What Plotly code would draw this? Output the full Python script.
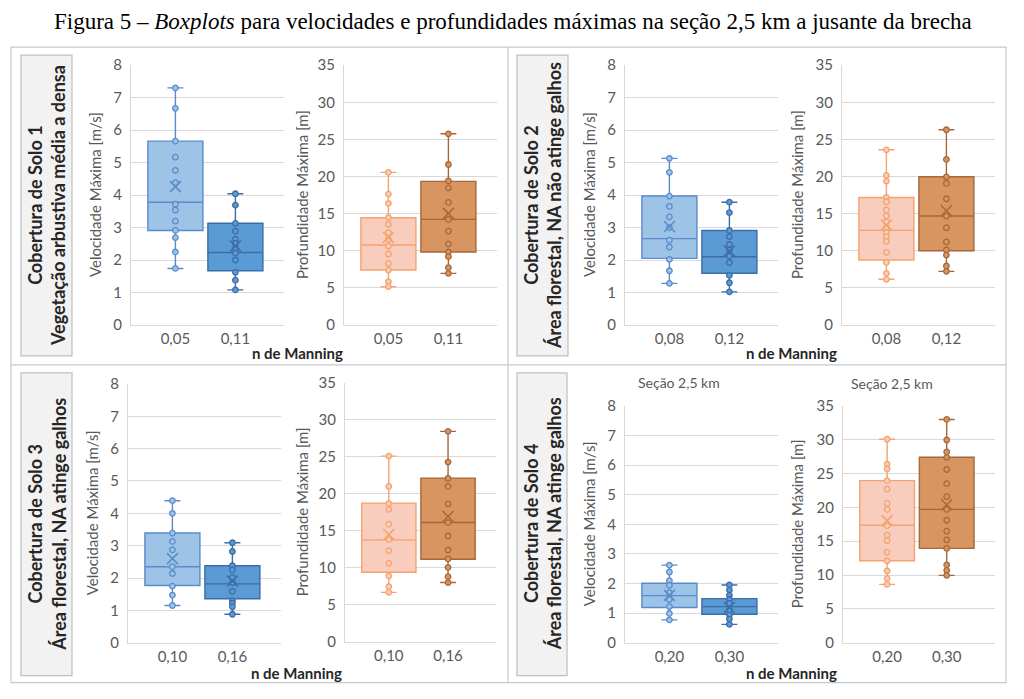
import plotly.graph_objects as go

W, H = 1024, 699

# ---------------- data ----------------
manning_1 = ["0,05", "0,11"]
manning_2 = ["0,08", "0,12"]
manning_3 = ["0,10", "0,16"]
manning_4 = ["0,20", "0,30"]

# Cobertura 1 - velocidade
vel1_lower = [1.74, 1.08]
vel1_q1 = [2.91, 1.67]
vel1_median = [3.78, 2.23]
vel1_q3 = [5.66, 3.13]
vel1_upper = [7.30, 4.04]
vel1_mean = [4.26, 2.43]
vel1_pts_a = [7.30, 6.67, 5.66, 5.17, 4.76, 4.38, 3.72, 3.54, 3.20, 2.91, 2.69, 2.25, 1.74]
vel1_pts_b = [4.04, 3.69, 3.13, 2.89, 2.64, 2.51, 2.36, 2.21, 2.00, 1.62, 1.38, 1.08]
# Cobertura 1 - profundidade
prof1_lower = [5.16, 6.95]
prof1_q1 = [7.40, 9.83]
prof1_median = [10.77, 14.22]
prof1_q3 = [14.45, 19.34]
prof1_upper = [20.55, 25.75]
prof1_mean = [11.8, 15.03]
prof1_pts_a = [20.55, 17.63, 16.37, 14.49, 13.55, 12.43, 11.53, 10.63, 9.56, 8.30, 7.40, 5.83, 5.16]
prof1_pts_b = [25.75, 21.62, 19.42, 18.48, 16.51, 14.22, 12.65, 10.90, 9.83, 9.20, 7.72, 6.95]

# Cobertura 2 - velocidade
vel2_lower = [1.28, 1.02]
vel2_q1 = [2.05, 1.59]
vel2_median = [2.66, 2.10]
vel2_q3 = [3.97, 2.91]
vel2_upper = [5.13, 3.78]
vel2_mean = [3.03, 2.28]
vel2_pts_a = [5.13, 4.70, 3.97, 3.65, 3.33, 3.00, 2.61, 2.40, 2.02, 1.67, 1.28]
vel2_pts_b = [3.78, 3.46, 2.91, 2.72, 2.48, 2.31, 2.12, 1.92, 1.53, 1.30, 1.02]
# Cobertura 2 - profundidade
prof2_lower = [6.15, 7.22]
prof2_q1 = [8.75, 10.0]
prof2_median = [12.74, 14.67]
prof2_q3 = [17.18, 19.96]
prof2_upper = [23.6, 26.3]
prof2_mean = [13.46, 15.39]
prof2_pts_a = [23.6, 20.14, 19.38, 17.18, 16.6, 15.5, 14.7, 13.9, 13.14, 12.47, 11.9, 11.26, 9.78, 8.43, 6.95, 6.15]
prof2_pts_b = [26.3, 22.3, 19.96, 19.07, 17.0, 14.67, 13.1, 11.2, 10.1, 9.42, 7.94, 7.22]

# Cobertura 3 - velocidade
vel3_lower = [1.15, 0.88]
vel3_q1 = [1.77, 1.36]
vel3_median = [2.35, 1.82]
vel3_q3 = [3.39, 2.38]
vel3_upper = [4.39, 3.09]
vel3_mean = [2.60, 1.91]
vel3_pts_a = [4.39, 4.00, 3.39, 3.13, 2.87, 2.35, 2.14, 1.75, 1.47, 1.15]
vel3_pts_b = [3.09, 2.82, 2.38, 2.25, 2.02, 1.86, 1.59, 1.30, 1.22, 1.11, 0.88]
# Cobertura 3 - profundidade
prof3_lower = [6.68, 8.0]
prof3_q1 = [9.4, 11.16]
prof3_median = [13.78, 16.12]
prof3_q3 = [18.74, 22.13]
prof3_upper = [25.1, 28.45]
prof3_mean = [14.5, 16.94]
prof3_pts_a = [25.1, 21.0, 18.7, 17.9, 15.9, 13.8, 12.3, 10.6, 8.9, 7.45, 6.68]
prof3_pts_b = [28.45, 24.3, 22.1, 21.0, 18.65, 16.1, 14.3, 12.4, 11.2, 10.05, 8.8, 8.0]

# Cobertura 4 - velocidade
vel4_lower = [0.77, 0.62]
vel4_q1 = [1.19, 0.96]
vel4_median = [1.59, 1.22]
vel4_q3 = [2.01, 1.49]
vel4_upper = [2.62, 1.95]
vel4_mean = [1.60, 1.19]
vel4_pts_a = [2.62, 2.39, 2.10, 1.94, 1.69, 1.46, 1.22, 0.99, 0.77]
vel4_pts_b = [1.95, 1.78, 1.60, 1.46, 1.33, 1.10, 0.94, 0.80, 0.62]
# Cobertura 4 - profundidade
prof4_lower = [8.62, 9.96]
prof4_q1 = [12.12, 13.94]
prof4_median = [17.35, 19.71]
prof4_q3 = [23.95, 27.4]
prof4_upper = [30.07, 33.0]
prof4_mean = [18.04, 20.4]
prof4_pts_a = [30.07, 26.4, 25.7, 23.95, 22.7, 20.6, 19.7, 17.3, 15.9, 15.1, 13.4, 12.1, 10.6, 9.5, 8.62]
prof4_pts_b = [33.0, 29.96, 28.2, 27.4, 25.6, 23.5, 21.6, 19.7, 18.1, 16.5, 15.2, 13.94, 11.5, 10.7, 9.96]

cover_labels = [
    "Cobertura de Solo 1<br>Vegetação arbustiva média a densa",
    "Cobertura de Solo 2<br>Área florestal, NA não atinge galhos",
    "Cobertura de Solo 3<br>Área florestal, NA atinge galhos",
    "Cobertura de Solo 4<br>Área florestal, NA atinge galhos",
]
vel_title = "Velocidade Máxima [m/s]"
prof_title = "Profundidade Máxima [m]"
x_title = "n de Manning"
section_title = "Seção 2,5 km"
fig_title = "Figura 5 – <i>Boxplots</i> para velocidades e profundidades máximas na seção 2,5 km a jusante da brecha"

# ---------------- styles ----------------
BLUE_L = dict(fill="#9DC3E6", line="#5A8BCB")
BLUE_D = dict(fill="#5B9BD5", line="#3C6DA6")
ORNG_L = dict(fill="#F8CDBE", line="#F5A26C")
ORNG_D = dict(fill="#D9955F", line="#A4683C")
FONT = "Lato"
GRID = "#D9D9D9"
TXT = "#595959"
PAGE_OFFSET = 8     # default page margin around the figure
Y_SHIFT = 10        # vertical calibration of the photographed page
Y_SCALE = 0.975

def px_x(v):
    return (v - PAGE_OFFSET) / W

def px_y(v):
    return 1 - ((v - Y_SHIFT) / Y_SCALE - PAGE_OFFSET) / H

panels = [
    # (labels, lower, q1, med, q3, upper, mean, pts_a, pts_b, colors, ymax, dtick, l, r, t, b, ytitle, ytx)
    (manning_1, vel1_lower, vel1_q1, vel1_median, vel1_q3, vel1_upper, vel1_mean, vel1_pts_a, vel1_pts_b, (BLUE_L, BLUE_D), 8, 1, 131, 284, 65, 325, vel_title, 95),
    (manning_1, prof1_lower, prof1_q1, prof1_median, prof1_q3, prof1_upper, prof1_mean, prof1_pts_a, prof1_pts_b, (ORNG_L, ORNG_D), 35, 5, 344, 497, 65, 325, prof_title, 302),
    (manning_2, vel2_lower, vel2_q1, vel2_median, vel2_q3, vel2_upper, vel2_mean, vel2_pts_a, vel2_pts_b, (BLUE_L, BLUE_D), 8, 1, 625, 778, 65, 325, vel_title, 589),
    (manning_2, prof2_lower, prof2_q1, prof2_median, prof2_q3, prof2_upper, prof2_mean, prof2_pts_a, prof2_pts_b, (ORNG_L, ORNG_D), 35, 5, 842, 995, 65, 325, prof_title, 797),
    (manning_3, vel3_lower, vel3_q1, vel3_median, vel3_q3, vel3_upper, vel3_mean, vel3_pts_a, vel3_pts_b, (BLUE_L, BLUE_D), 8, 1, 128, 281, 384, 643, vel_title, 92),
    (manning_3, prof3_lower, prof3_q1, prof3_median, prof3_q3, prof3_upper, prof3_mean, prof3_pts_a, prof3_pts_b, (ORNG_L, ORNG_D), 35, 5, 345, 496, 383, 642, prof_title, 302),
    (manning_4, vel4_lower, vel4_q1, vel4_median, vel4_q3, vel4_upper, vel4_mean, vel4_pts_a, vel4_pts_b, (BLUE_L, BLUE_D), 8, 1, 625, 778, 406, 643, vel_title, 589),
    (manning_4, prof4_lower, prof4_q1, prof4_median, prof4_q3, prof4_upper, prof4_mean, prof4_pts_a, prof4_pts_b, (ORNG_L, ORNG_D), 35, 5, 843, 995, 406, 643, prof_title, 797),
]

fig = go.Figure()
layout = {}
annotations = []
shapes = []

def ann(x, y, text, size, color, angle=0, family=FONT):
    return dict(x=px_x(x), y=px_y(y), xref="paper", yref="paper", text=text,
                textangle=angle, showarrow=False, xanchor="center", yanchor="middle",
                font=dict(family=family, size=size, color=color))

for i, p in enumerate(panels, start=1):
    (labels, lo, q1, med, q3, up, mean, pa, pb, cols, ymax, dt, l, r, t, b, ytitle, ytx) = p
    xa = "x" if i == 1 else f"x{i}"
    ya = "y" if i == 1 else f"y{i}"
    for k, (pts, col) in enumerate(zip((pa, pb), cols)):
        fig.add_trace(go.Box(
            x=[k], q1=[q1[k]], median=[med[k]], q3=[q3[k]],
            lowerfence=[lo[k]], upperfence=[up[k]],
            width=0.917, whiskerwidth=0.29,
            fillcolor=col["fill"], line=dict(color=col["line"], width=1.4),
            boxpoints=False, xaxis=xa, yaxis=ya, showlegend=False, hoverinfo="skip",
        ))
        fig.add_trace(go.Scatter(
            x=[k] * len(pts), y=pts, mode="markers", xaxis=xa, yaxis=ya, showlegend=False,
            marker=dict(symbol="circle", size=5.5, color=col["fill"],
                        line=dict(color=col["line"], width=1.3)),
        ))
        fig.add_trace(go.Scatter(
            x=[k], y=[mean[k]], mode="markers", xaxis=xa, yaxis=ya, showlegend=False,
            marker=dict(symbol="x-thin-open", size=11, color=col["line"],
                        line=dict(color=col["line"], width=1.5)),
        ))
    key_x = "xaxis" if i == 1 else f"xaxis{i}"
    key_y = "yaxis" if i == 1 else f"yaxis{i}"
    layout[key_x] = dict(
        domain=[px_x(l), px_x(r)], anchor=ya, range=[-0.74, 1.81],
        tickvals=[0, 1], ticktext=labels, showgrid=False, zeroline=False,
        showline=True, linecolor=GRID, linewidth=1, ticks="",
        tickfont=dict(family=FONT, size=15, color=TXT), fixedrange=True,
    )
    layout[key_y] = dict(
        domain=[px_y(b), px_y(t)], anchor=xa, range=[0, ymax], dtick=dt,
        showgrid=True, gridcolor=GRID, gridwidth=1, zeroline=False,
        showline=True, linecolor=GRID, linewidth=1,
        ticks="outside", ticklen=5, tickcolor="rgba(0,0,0,0)",
        tickfont=dict(family=FONT, size=15, color=TXT), fixedrange=True,
    )
    annotations.append(ann(ytx, (t + b) / 2, ytitle, 15, TXT, angle=-90))

# section titles on cobertura 4
annotations.append(ann(679, 383, section_title, 14, TXT))
annotations.append(ann(892, 384, section_title, 14, TXT))

# n de Manning
for (cx, cy) in [(297, 353), (791, 353), (296, 673), (791, 673)]:
    annotations.append(ann(cx, cy, f"<b>{x_title}</b>", 15, "#262626"))

# grey label boxes
label_boxes = [(21, 72, 55, 356), (517, 568, 55, 356), (21, 72, 373, 676), (517, 567, 373, 676)]
for txt, (l, r, t, b) in zip(cover_labels, label_boxes):
    shapes.append(dict(type="rect", xref="paper", yref="paper",
                       x0=px_x(l), x1=px_x(r), y0=px_y(b), y1=px_y(t),
                       fillcolor="#F2F2F2", line=dict(color="#BFBFBF", width=1.2), layer="below"))
    annotations.append(ann((l + r) / 2, (t + b) / 2, f"<b>{txt}</b>", 18, "#262626", angle=-90))

# quadrant frame
FRAME = "#C8C8C8"
shapes.append(dict(type="rect", xref="paper", yref="paper", x0=px_x(11), x1=px_x(1006),
                   y0=px_y(683), y1=px_y(47), line=dict(color=FRAME, width=1.2), layer="below"))
shapes.append(dict(type="line", xref="paper", yref="paper", x0=px_x(508), x1=px_x(508),
                   y0=px_y(683), y1=px_y(47), line=dict(color=FRAME, width=1.2), layer="below"))
shapes.append(dict(type="line", xref="paper", yref="paper", x0=px_x(11), x1=px_x(1006),
                   y0=px_y(365), y1=px_y(365), line=dict(color=FRAME, width=1.2), layer="below"))

# figure title
annotations.append(ann(513, 21, fig_title, 23, "#000000", family="Liberation Serif"))

fig.update_layout(
    width=W, height=H, margin=dict(l=0, r=0, t=0, b=0),
    paper_bgcolor="white", plot_bgcolor="white",
    annotations=annotations, shapes=shapes, **layout,
)

fig.write_html("out.html")
